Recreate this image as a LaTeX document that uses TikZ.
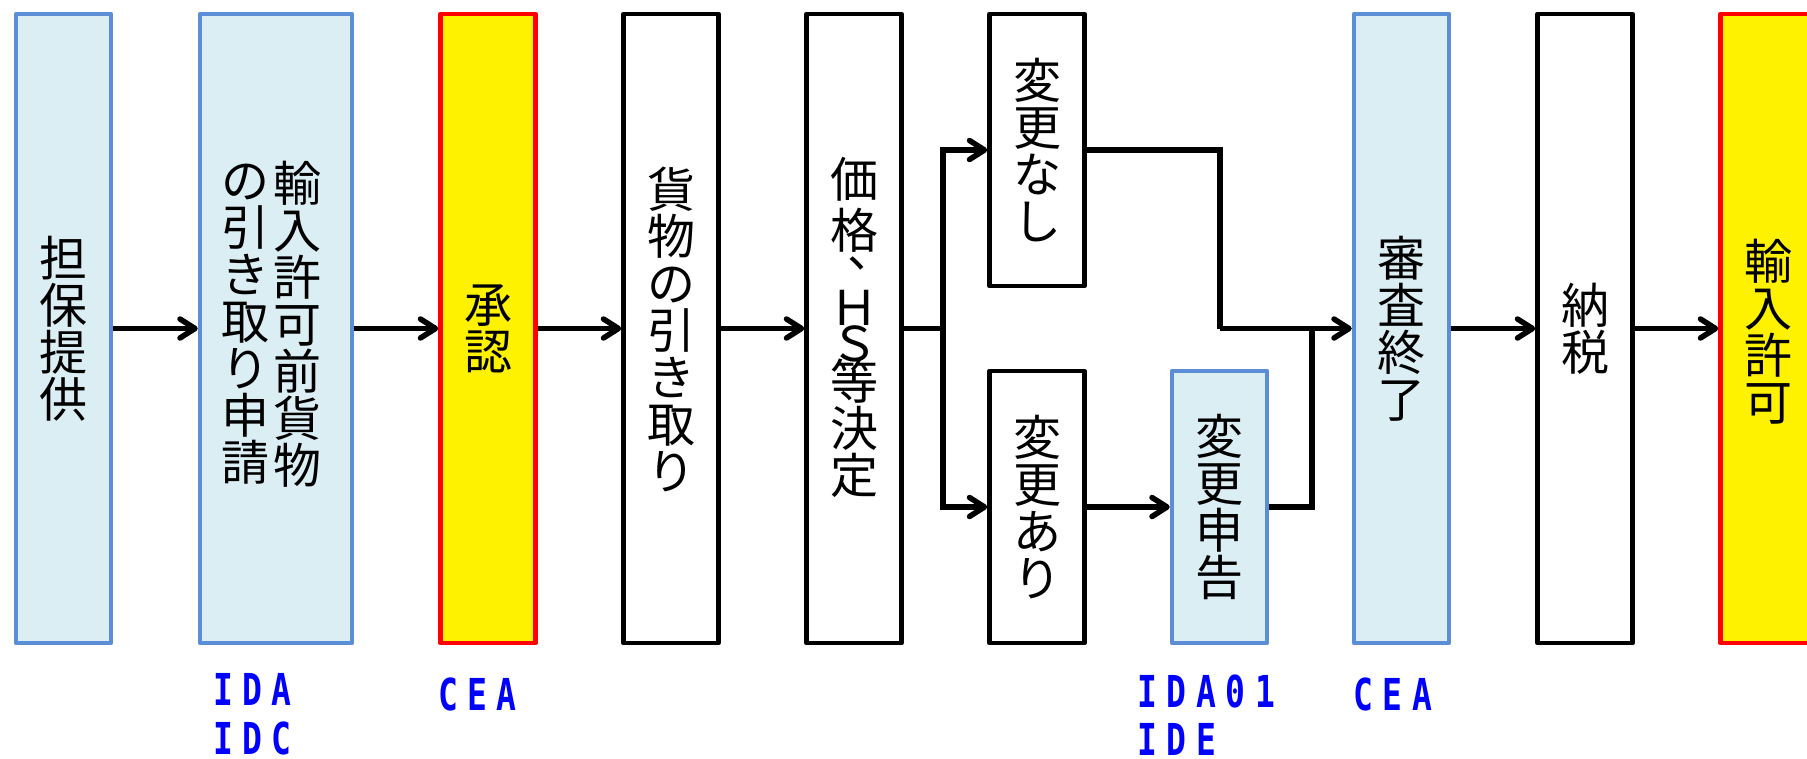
\documentclass[tikz,border=0pt]{standalone}
\usepackage{fontspec}
\usetikzlibrary{arrows.meta}
\newfontfamily\jp{Noto Sans CJK JP}
\newfontfamily\labfont[FakeStretch=0.75]{DejaVu Sans Mono}
\definecolor{bluebd}{HTML}{5B8ED6}
\definecolor{bluefill}{HTML}{DBEEF4}
\definecolor{labblue}{HTML}{0000FF}
\newcommand\lc[1]{\makebox[29.5pt]{#1}}
\begin{document}
\begin{tikzpicture}[x=1pt,y=-1pt,
 bx/.style={draw=black, line width=4.5pt, fill=white, inner sep=0pt, minimum width=95pt, minimum height=629pt, line join=round},
 bluebox/.style={bx, draw=bluebd, fill=bluefill},
 goldbox/.style={bx, draw=red, fill=yellow},
 shortbox/.style={minimum height=272pt},
 jt/.style={font=\jp\fontsize{48}{47}\selectfont, align=center, inner sep=0pt},
 lab/.style={font=\labfont\bfseries\fontsize{44}{50}\selectfont, text=labblue, inner sep=0pt, anchor=base west},
 arr/.style={line width=5.5pt, -{Straight Barb[length=15pt,width=19pt,round]}},
 ln/.style={line width=5.5pt}]
\useasboundingbox (0,0) rectangle (1807,758);
% boxes
\node[bluebox] (b1) at (63.5,328.5) {};
\node[bluebox, minimum width=152pt] (b2) at (276,328.5) {};
\node[goldbox] (b3) at (488,328.5) {};
\node[bx] (b4) at (671,328.5) {};
\node[bx] (b5) at (854,328.5) {};
\node[bx, shortbox] (b6) at (1037,150) {};
\node[bx, shortbox] (b7) at (1037,507) {};
\node[bluebox, shortbox] (b8) at (1219.5,507) {};
\node[bluebox] (b9) at (1401.5,328.5) {};
\node[bx] (b10) at (1585,328.5) {};
\node[goldbox] (b11) at (1768,328.5) {};
% texts
\node[jt] (t1) at (b1) {担\\保\\提\\供};
\node[jt] (t2a) at (297,324) {輸\\入\\許\\可\\前\\貨\\物};
\node[jt] (t2b) at (245,324) {の\\引\\き\\取\\り\\申\\請};
\node[jt] (t3) at (b3) {承\\認};
\node[jt] (t4) at (671,329) {貨\\物\\の\\引\\き\\取\\り};
\node[jt] (t5) at (854,327) {価\\[4pt]格\\[30pt]Ｈ\\[-11pt]Ｓ\\[-9pt]等\\決\\定};
\node[font=\jp\fontsize{48}{47}\selectfont, inner sep=0pt, anchor=base west] (t5c) at (847,267) {、};
\node[jt] (t6) at (b6) {変\\更\\な\\し};
\node[jt] (t7) at (b7) {変\\更\\あ\\り};
\node[jt] (t8) at (b8) {変\\更\\申\\告};
\node[jt] (t9) at (b9) {審\\査\\終\\了};
\node[jt] (t10) at (b10) {納\\税};
\node[jt] (t11) at (1768,332) {輸\\入\\許\\可};
% connectors
\coordinate (sp) at (943,328.5);
\coordinate (j1) at (1220,328.5);
\coordinate (j2) at (1312,328.5);
\draw[arr] (b1) -- (b2);
\draw[arr] (b2) -- (b3);
\draw[arr] (b3) -- (b4);
\draw[arr] (b4) -- (b5);
\draw[ln] (b5.east) -- (sp);
\draw[arr] (sp) |- (b6.west);
\draw[arr] (sp) |- (b7.west);
\draw[ln] (b6.east) -| (j1);
\draw[arr] (j1) -- (b9.west);
\draw[arr] (b7) -- (b8);
\draw[ln] (b8.east) -| (j2);
\draw[arr] (b9) -- (b10);
\draw[arr] (b10) -- (b11);
% labels
\node[lab] (l1) at (208,705) {\lc{I}\lc{D}\lc{A}};
\node[lab] (l2) at (208,754) {\lc{I}\lc{D}\lc{C}};
\node[lab] (l3) at (433,710) {\lc{C}\lc{E}\lc{A}};
\node[lab] (l4) at (1132,707) {\lc{I}\lc{D}\lc{A}\lc{0}\lc{1}};
\node[lab] (l5) at (1132,755) {\lc{I}\lc{D}\lc{E}};
\node[lab] (l6) at (1348,710) {\lc{C}\lc{E}\lc{A}};
\end{tikzpicture}
\end{document}
